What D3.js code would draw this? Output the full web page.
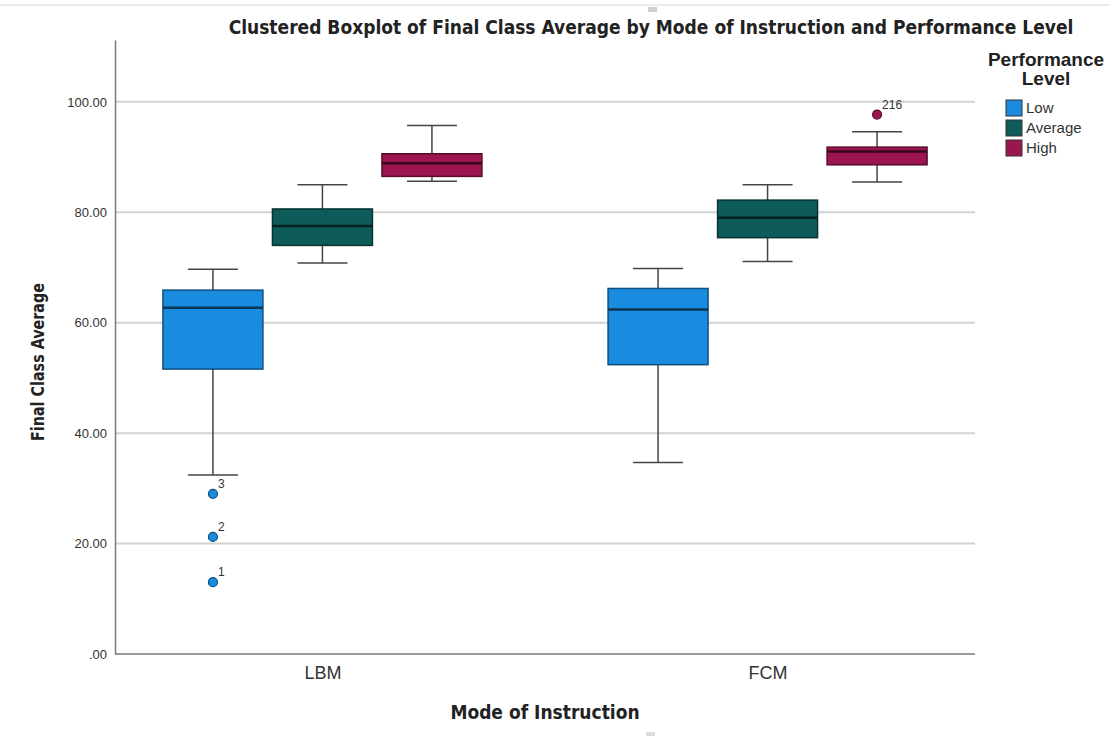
<!DOCTYPE html>
<html>
<head>
<meta charset="utf-8">
<script src="https://cdn.jsdelivr.net/npm/d3@7"></script>
<style>
  body { margin: 0; background: #fff; }
  .narrow { font-family: "Liberation Sans Narrow", "DejaVu Sans Condensed", Arial, sans-serif; font-weight: bold; }
  .tick text { font-family: "Liberation Sans", Arial, sans-serif; }
</style>
</head>
<body>
<div id="chart"></div>
<script>
// categories and groups
var modes = ['LBM', 'FCM'];
var levels = ['Low', 'Average', 'High'];
var yTicks = [0, 20, 40, 60, 80, 100];

// box stats per mode, in the order of levels: [lowWhisker, q1, median, q3, highWhisker]
var lbmStats = [
  [32.4, 51.6, 62.7, 65.9, 69.7],
  [70.8, 74.0, 77.5, 80.6, 85.0],
  [85.6, 86.5, 88.9, 90.6, 95.7]
];
var fcmStats = [
  [34.7, 52.4, 62.4, 66.2, 69.8],
  [71.1, 75.4, 79.0, 82.2, 85.0],
  [85.5, 88.6, 91.0, 91.8, 94.6]
];

// outliers: mode, level, value, case label
var outliers = [
  { mode: 'LBM', level: 'Low', value: 29.0, label: '3' },
  { mode: 'LBM', level: 'Low', value: 21.2, label: '2' },
  { mode: 'LBM', level: 'Low', value: 13.0, label: '1' },
  { mode: 'FCM', level: 'High', value: 97.7, label: '216' }
];

var colors = ['#1a8ce0', '#0d5c5a', '#9c1550'];

var W = 1110, H = 736;
var m = { top: 40, right: 135, bottom: 82, left: 115 };

var svg = d3.select('#chart').append('svg')
    .attr('width', W).attr('height', H);

// faint screenshot frame bits
svg.append('line').attr('x1', 0).attr('x2', W).attr('y1', 5).attr('y2', 5)
    .style('stroke', '#e6e6e6').style('stroke-width', 1.5);
svg.append('rect').attr('x', 648).attr('y', 7).attr('width', 9).attr('height', 5).style('fill', '#cfcfcf');
svg.append('rect').attr('x', 646).attr('y', 732).attr('width', 9).attr('height', 4).style('fill', '#dcdcdc');

var y = d3.scaleLinear().domain([0, 111.2]).range([H - m.bottom, m.top]);
var x = d3.scalePoint().domain(modes).range([m.left, W - m.right]).padding(0.466);
var xIn = d3.scaleBand().domain(levels).range([-159.5, 159.5]).paddingInner(0.087);
var color = d3.scaleOrdinal().domain(levels).range(colors);

// gridlines
svg.append('g').selectAll('line.grid')
    .data(yTicks.filter(d => d > 0))
    .enter().append('line')
    .attr('class', 'grid')
    .attr('x1', m.left).attr('x2', W - m.right)
    .attr('y1', d => y(d)).attr('y2', d => y(d))
    .style('stroke', '#d2d2d2').style('stroke-width', 2);

// y axis
var yAxis = svg.append('g')
    .attr('transform', 'translate(' + m.left + ',0)')
    .call(d3.axisLeft(y).tickValues(yTicks).tickSize(0).tickPadding(8)
        .tickFormat(d => d === 0 ? '.00' : d3.format('.2f')(d)));
yAxis.select('.domain').style('stroke', '#7a7a7a').style('stroke-width', 1.5);
yAxis.selectAll('text').style('font-size', '13px').style('fill', '#333');

// x axis
var xAxis = svg.append('g')
    .attr('transform', 'translate(0,' + (H - m.bottom) + ')')
    .call(d3.axisBottom(x).tickSize(0).tickPadding(12));
xAxis.select('.domain').attr('d', 'M' + m.left + ',0H' + (W - m.right))
    .style('stroke', '#7a7a7a').style('stroke-width', 1.5);
xAxis.selectAll('text').style('font-size', '18px').style('fill', '#333');

// boxes
var boxData = [];
modes.forEach(function (mode, mi) {
  var stats = mi === 0 ? lbmStats : fcmStats;
  levels.forEach(function (lv, li) {
    var s = stats[li];
    boxData.push({ mode: mode, level: lv, lo: s[0], q1: s[1], med: s[2], q3: s[3], hi: s[4] });
  });
});

var bw = xIn.bandwidth();
var cx = d => x(d.mode) + xIn(d.level) + bw / 2;

var box = svg.append('g').selectAll('g.box')
    .data(boxData)
    .enter().append('g').attr('class', 'box');

box.append('line')
    .attr('x1', cx).attr('x2', cx)
    .attr('y1', d => y(d.hi)).attr('y2', d => y(d.lo))
    .style('stroke', '#444').style('stroke-width', 1.5);

box.selectAll('line.cap')
    .data(d => [{ d: d, v: d.hi }, { d: d, v: d.lo }])
    .enter().append('line')
    .attr('class', 'cap')
    .attr('x1', e => cx(e.d) - bw / 4).attr('x2', e => cx(e.d) + bw / 4)
    .attr('y1', e => y(e.v)).attr('y2', e => y(e.v))
    .style('stroke', '#444').style('stroke-width', 1.5);

box.append('rect')
    .attr('x', d => cx(d) - bw / 2)
    .attr('width', bw)
    .attr('y', d => y(d.q3))
    .attr('height', d => y(d.q1) - y(d.q3))
    .style('fill', d => color(d.level))
    .style('stroke', d => d3.color(color(d.level)).darker(1.6))
    .style('stroke-width', 1.5);

box.append('line')
    .attr('x1', d => cx(d) - bw / 2).attr('x2', d => cx(d) + bw / 2)
    .attr('y1', d => y(d.med)).attr('y2', d => y(d.med))
    .style('stroke', d => d3.color(color(d.level)).darker(2.8))
    .style('stroke-width', 2.5);

// outliers
var out = svg.append('g').selectAll('g.out')
    .data(outliers)
    .enter().append('g').attr('class', 'out');

out.append('circle')
    .attr('cx', d => x(d.mode) + xIn(d.level) + bw / 2)
    .attr('cy', d => y(d.value))
    .attr('r', 4.5)
    .style('fill', d => color(d.level))
    .style('stroke', d => d3.color(color(d.level)).darker(1.6))
    .style('stroke-width', 1.2);

out.append('text')
    .attr('x', d => x(d.mode) + xIn(d.level) + bw / 2 + 5)
    .attr('y', d => y(d.value) - 6)
    .style('font-family', '"Liberation Sans", Arial, sans-serif')
    .style('font-size', '12px').style('fill', '#333')
    .text(d => d.label);

// titles
svg.append('text').attr('class', 'narrow')
    .attr('x', 651).attr('y', 34)
    .attr('text-anchor', 'middle')
    .style('font-size', '19px').style('fill', '#222')
    .text('Clustered Boxplot of Final Class Average by Mode of Instruction and Performance Level');

svg.append('text').attr('class', 'narrow')
    .attr('x', 545).attr('y', 719)
    .attr('text-anchor', 'middle')
    .style('font-size', '19px').style('fill', '#222')
    .text('Mode of Instruction');

svg.append('text').attr('class', 'narrow')
    .attr('transform', 'translate(44,362) rotate(-90)')
    .attr('text-anchor', 'middle')
    .attr('textLength', 158).attr('lengthAdjust', 'spacingAndGlyphs')
    .style('font-size', '18px').style('fill', '#222')
    .text('Final Class Average');

// legend
var lg = svg.append('g').attr('transform', 'translate(1006,0)');
lg.append('text')
    .attr('x', 40).attr('y', 66)
    .attr('text-anchor', 'middle')
    .style('font-family', '"Liberation Sans", Arial, sans-serif')
    .style('font-weight', 'bold').style('font-size', '19px').style('fill', '#222')
    .text('Performance');
lg.append('text')
    .attr('x', 40).attr('y', 85)
    .attr('text-anchor', 'middle')
    .style('font-family', '"Liberation Sans", Arial, sans-serif')
    .style('font-weight', 'bold').style('font-size', '19px').style('fill', '#222')
    .text('Level');

var item = lg.selectAll('g.item')
    .data(levels)
    .enter().append('g').attr('class', 'item')
    .attr('transform', (d, i) => 'translate(0,' + (100 + i * 20) + ')');
item.append('rect')
    .attr('width', 16).attr('height', 16)
    .style('fill', d => color(d))
    .style('stroke', '#333').style('stroke-width', 1);
item.append('text')
    .attr('x', 20).attr('y', 13)
    .style('font-family', '"Liberation Sans", Arial, sans-serif')
    .style('font-size', '15px').style('fill', '#333')
    .text(d => d);
</script>
</body>
</html>
